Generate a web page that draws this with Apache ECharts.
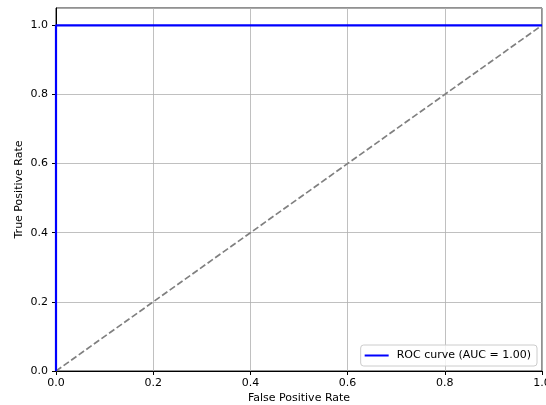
<!DOCTYPE html>
<html><head><meta charset="utf-8">
<script src="https://cdn.jsdelivr.net/npm/echarts@6/dist/echarts.min.js"></script>
<style>html,body{margin:0;padding:0;background:#fff}#c{width:546px;height:405px}</style>
</head><body><div id="c"></div>
<script>
const rocFpr = [0.0, 0.0, 1.0];
const rocTpr = [0.0, 1.0, 1.0];
const diagX = [0.0, 1.0];
const diagY = [0.0, 1.0];
const rocLabel = 'ROC curve (AUC = 1.00)';
const xTitle = 'False Positive Rate';
const yTitle = 'True Positive Rate';

const font = 'DejaVu Sans';
const chart = echarts.init(document.getElementById('c'), null, {renderer: 'canvas'});
chart.setOption({
  animation: false,
  backgroundColor: '#fff',
  grid: {left: 56, right: 4, top: 8, bottom: 34, show: true, borderColor: '#222', borderWidth: 1, containLabel: false, outerBoundsMode: 'none'},
  xAxis: {
    type: 'value', min: 0, max: 1.0, interval: 0.2,
    name: xTitle, nameLocation: 'middle', nameGap: 22, nameMoveOverlap: false,
    nameTextStyle: {fontFamily: font, fontSize: 11, color: '#000'},
    axisLine: {show: true, lineStyle: {color: '#000', width: 1}},
    axisTick: {show: true, length: 4, lineStyle: {color: '#000'}},
    axisLabel: {fontFamily: font, fontSize: 11, color: '#000', margin: 7, formatter: v => v.toFixed(1)},
    splitLine: {show: true, lineStyle: {color: '#b0b0b0', width: 0.8}}
  },
  yAxis: {
    type: 'value', min: 0, max: 1.05, interval: 0.2,
    name: yTitle, nameLocation: 'middle', nameGap: 31, nameRotate: 90, nameMoveOverlap: false,
    nameTextStyle: {fontFamily: font, fontSize: 11, color: '#000'},
    axisLine: {show: true, lineStyle: {color: '#000', width: 1}},
    axisTick: {show: true, length: 4, lineStyle: {color: '#000'}},
    axisLabel: {fontFamily: font, fontSize: 11, color: '#000', margin: 8, showMaxLabel: false, formatter: v => v.toFixed(1)},
    splitLine: {show: true, lineStyle: {color: '#b0b0b0', width: 0.8}}
  },
  legend: {
    data: [rocLabel], right: 9, bottom: 39, orient: 'vertical',
    backgroundColor: 'rgba(255,255,255,0.8)', borderColor: '#cccccc', borderWidth: 1, borderRadius: 3,
    padding: [5, 6, 5, 4], itemWidth: 24, itemHeight: 2, itemGap: 4,
    icon: 'rect',
    textStyle: {fontFamily: font, fontSize: 11, color: '#000', padding: [0, 0, 0, 3]}
  },
  series: [
    {
      name: rocLabel, type: 'line', data: rocFpr.map((x, i) => [x, rocTpr[i]]),
      showSymbol: false, symbol: 'none', lineStyle: {color: '#0000ff', width: 2.2}, itemStyle: {color: '#0000ff'}, z: 3, clip: false
    },
    {
      name: 'diag', type: 'line', data: diagX.map((x, i) => [x, diagY[i]]),
      showSymbol: false, symbol: 'none', lineStyle: {color: '#808080', width: 1.7, type: [6.5, 2.8]}, z: 2
    }
  ]
});
</script></body></html>
